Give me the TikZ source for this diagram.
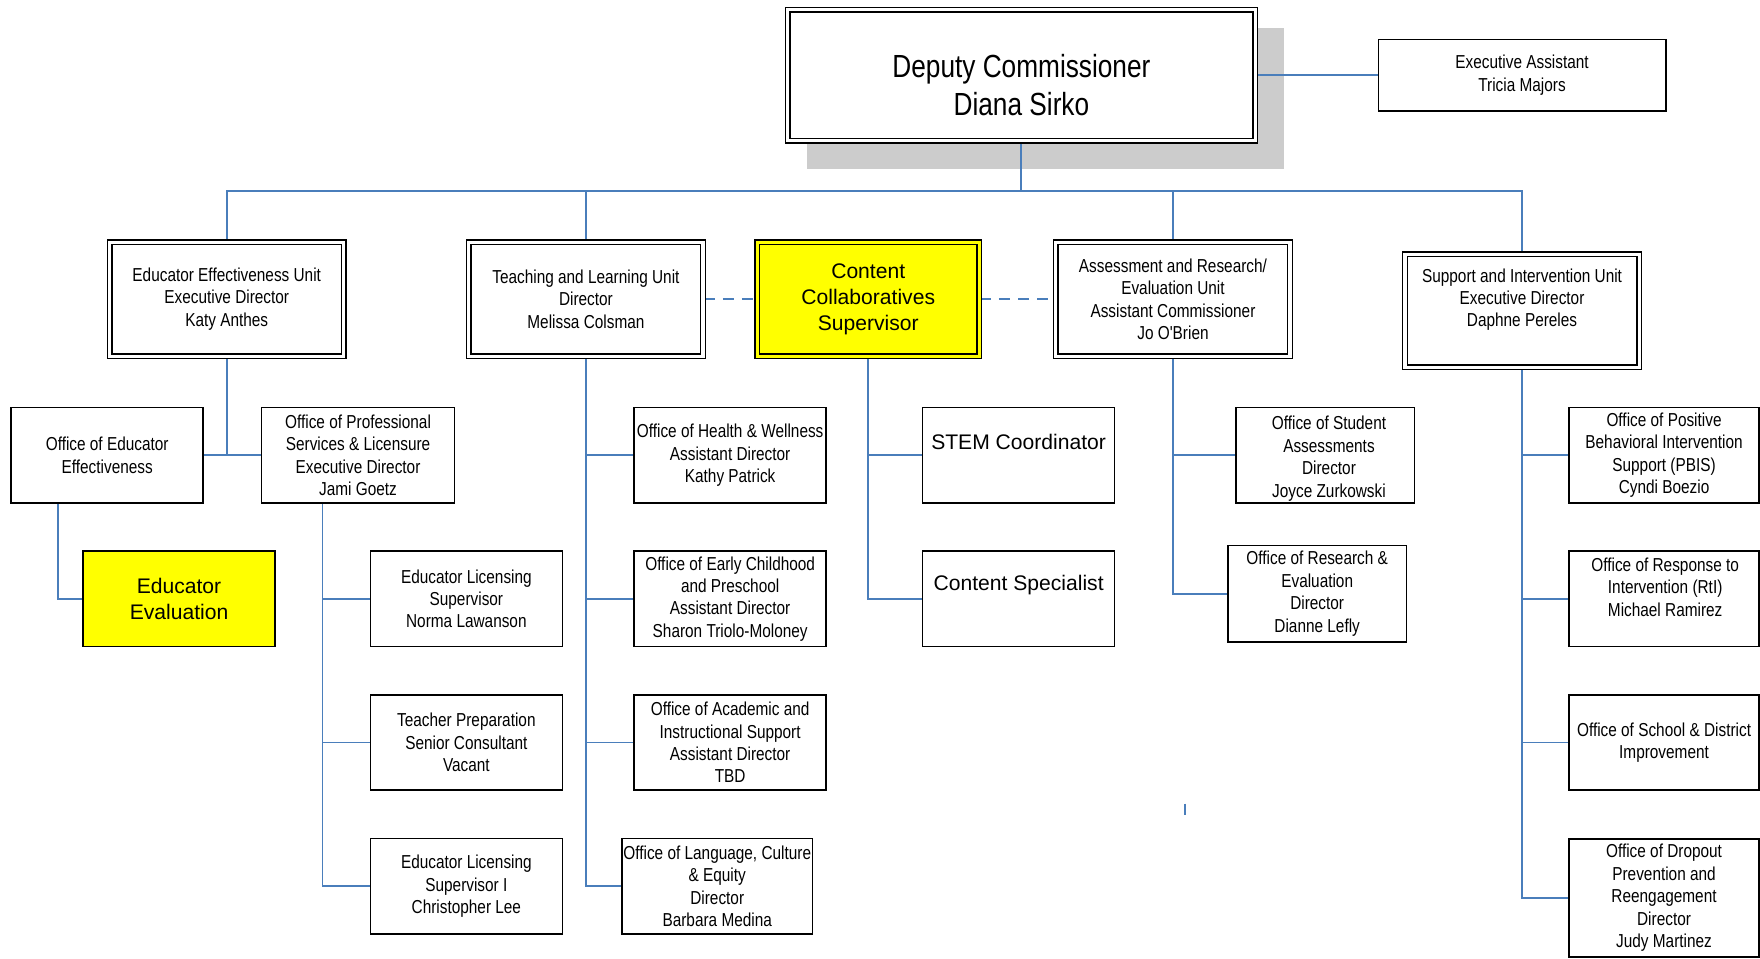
\documentclass[tikz,border=0pt]{standalone}
\usepackage{fontspec}
\usetikzlibrary{backgrounds}
\newfontfamily\narrowfont[FakeStretch=0.82]{Liberation Sans}
\newfontfamily\plainfont{Liberation Sans}
\definecolor{linkblue}{HTML}{4A7EBB}
\definecolor{shadowgray}{HTML}{CCCCCC}
\definecolor{hiyellow}{HTML}{FFFF00}

\tikzset{
  smalltext/.style={font=\narrowfont\fontsize{16.7}{20}\selectfont, align=center, text=black},
  bigtext/.style={font=\plainfont\fontsize{18.8}{23}\selectfont, align=center, text=black},
  headtext/.style={font=\narrowfont\fontsize{28.5}{34}\selectfont, align=center, text=black},
  onebox/.style={draw=black, line width=1.4pt, fill=white, rectangle, inner sep=0pt, smalltext},
  twobox/.style={draw=black, line width=1.3pt, double=white, double distance=2.8pt,
                 fill=white, rectangle, inner sep=0pt, smalltext},
  link/.style={draw=linkblue, line width=1.7pt},
  dottedlink/.style={link, dash pattern=on 10pt off 7pt},
}

\begin{document}
\begin{tikzpicture}[x=1pt, y=-1pt]
\useasboundingbox (0,0) rectangle (1568,854);

% ---------- top level ----------
\node[twobox, minimum width=416.6pt, minimum height=116.6pt] (dep) at (910,67) {};
\node[headtext] (dept) at (910,76) {Deputy Commissioner\\Diana Sirko};
\node[onebox, minimum width=256pt, minimum height=64pt] (exec) at (1356,67)
  {Executive Assistant\\Tricia Majors};

% ---------- units ----------
\node[twobox, minimum width=208.6pt, minimum height=101.6pt] (eeu) at (202,266.5)
  {Educator Effectiveness Unit\\Executive Director\\Katy Anthes};
\node[twobox, minimum width=208.6pt, minimum height=101.6pt] (tlu) at (522,266.5)
  {Teaching and Learning Unit\\Director\\Melissa Colsman};
\node[twobox, double=hiyellow, fill=hiyellow, bigtext, minimum width=197.6pt, minimum height=101.6pt] (cc) at (773.5,266.5)
  {Content\\Collaboratives\\Supervisor};
\node[twobox, minimum width=208.6pt, minimum height=101.6pt] (are) at (1045,266.5)
  {Assessment and Research/\\Evaluation Unit\\Assistant Commissioner\\Jo O'Brien};
\node[twobox, minimum width=208.6pt, minimum height=100.6pt] (siu) at (1356,277) {};
\node[smalltext] (siut) at (1356,267)
  {Support and Intervention Unit\\Executive Director\\Daphne Pereles};

% ---------- educator effectiveness ----------
\node[onebox, minimum width=171pt, minimum height=85pt] (oee) at (95.5,405.5)
  {Office of Educator\\Effectiveness};
\node[onebox, minimum width=172pt, minimum height=85pt] (opsl) at (319,405.5)
  {Office of Professional\\Services \& Licensure\\Executive Director\\Jami Goetz};
\node[onebox, fill=hiyellow, bigtext, minimum width=171pt, minimum height=85pt] (eval) at (159.5,533.5)
  {Educator\\Evaluation};
\node[onebox, minimum width=171pt, minimum height=85pt] (lic) at (415.5,533.5)
  {Educator Licensing\\Supervisor\\Norma Lawanson};
\node[onebox, minimum width=171pt, minimum height=85pt] (prep) at (415.5,661.5)
  {Teacher Preparation\\Senior Consultant\\Vacant};
\node[onebox, minimum width=171pt, minimum height=85pt] (licone) at (415.5,789.5)
  {Educator Licensing\\Supervisor I\\Christopher Lee};

% ---------- teaching and learning ----------
\node[onebox, minimum width=171pt, minimum height=85pt] (health) at (650.5,405.5)
  {Office of Health \& Wellness\\Assistant Director\\Kathy Patrick};
\node[onebox, minimum width=171pt, minimum height=85pt] (early) at (650.5,533.5)
  {Office of Early Childhood\\and Preschool\\Assistant Director\\Sharon Triolo-Moloney};
\node[onebox, minimum width=171pt, minimum height=85pt] (acad) at (650.5,661.5)
  {Office of Academic and\\Instructional Support\\Assistant Director\\TBD};
\node[onebox, minimum width=170pt, minimum height=85pt] (lang) at (639,789.5)
  {Office of Language, Culture\\\& Equity\\Director\\Barbara Medina};

% ---------- content collaboratives ----------
\node[onebox, minimum width=171pt, minimum height=85pt] (stem) at (907.5,405.5) {};
\node[bigtext] (stemt) at (907.5,393.5) {STEM Coordinator};
\node[onebox, minimum width=171pt, minimum height=85pt] (spec) at (907.5,533.5) {};
\node[bigtext] (spect) at (907.5,521.5) {Content Specialist};

% ---------- assessment and research ----------
\node[onebox, minimum width=159pt, minimum height=85pt] (stud) at (1180.5,405.5) {};
\node[smalltext] (studt) at (1184,408.5)
  {Office of Student\\Assessments\\Director\\Joyce Zurkowski};
\node[onebox, minimum width=159pt, minimum height=86pt] (res) at (1173.5,529)
  {Office of Research \&\\Evaluation\\Director\\Dianne Lefly};

% ---------- support and intervention ----------
\node[onebox, minimum width=169pt, minimum height=85pt] (pbis) at (1482.5,405.5)
  {Office of Positive\\Behavioral Intervention\\Support (PBIS)\\Cyndi Boezio};
\node[onebox, minimum width=169pt, minimum height=85pt] (rti) at (1482.5,533.5) {};
\node[smalltext] (rtit) at (1483.5,523)
  {Office of Response to\\Intervention (RtI)\\Michael Ramirez};
\node[onebox, minimum width=169pt, minimum height=85pt] (sdi) at (1482.5,661.5)
  {Office of School \& District\\Improvement};
\node[onebox, minimum width=169pt, minimum height=105pt] (drop) at (1482.5,800)
  {Office of Dropout\\Prevention and\\Reengagement\\Director\\Judy Martinez};

\coordinate (tick) at (1056,716);

% ---------- shadow and connectors, behind the boxes ----------
\begin{pgfonlayer}{background}
  \fill[shadowgray] ([shift={(18.3pt,-24.7pt)}]dep.south west) rectangle ([shift={(24.7pt,-17.3pt)}]dep.north east);
  \coordinate (bus) at (0,170);
  \draw[link] (dep.south) -- (dep.south |- bus);
  \draw[link] (eeu.north) -- (eeu.north |- bus) -- (siu.north |- bus) -- (siu.north);
  \draw[link] (tlu.north) -- (tlu.north |- bus);
  \draw[link] (are.north) -- (are.north |- bus);
  \draw[link] (dep.east) -- (exec.west);
  \draw[dottedlink] (tlu.east) -- (cc.west);
  \draw[dottedlink] (cc.east) -- (are.west);

  \draw[link] (eeu.south) -- (eeu.south |- oee.east);
  \draw[link] (oee.east) -- (opsl.west);
  \draw[link] ([xshift=42pt]oee.south west) |- (eval.west);
  \draw[link] ([xshift=55pt]opsl.south west) |- (licone.west);
  \draw[link] ([xshift=55pt]opsl.south west) |- (lic.west);
  \draw[link] ([xshift=55pt]opsl.south west) |- (prep.west);

  \draw[link] (tlu.south) |- (lang.west);
  \draw[link] (tlu.south) |- (health.west);
  \draw[link] (tlu.south) |- (early.west);
  \draw[link] (tlu.south) |- (acad.west);

  \draw[link] (cc.south) |- (spec.west);
  \draw[link] (cc.south) |- (stem.west);

  \draw[link] (are.south) |- (res.west);
  \draw[link] (are.south) |- (stud.west);

  \draw[link] (siu.south) |- (drop.west);
  \draw[link] (siu.south) |- (pbis.west);
  \draw[link] (siu.south) |- (rti.west);
  \draw[link] (siu.south) |- (sdi.west);

  \draw[link] (tick) -- ++(0,10);
\end{pgfonlayer}
\end{tikzpicture}
\end{document}
